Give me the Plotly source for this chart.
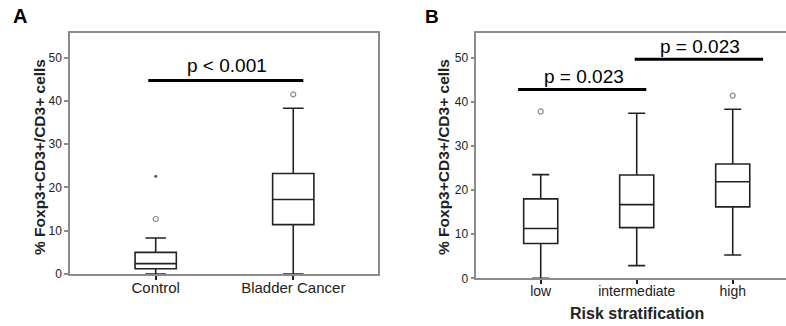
import plotly.graph_objects as go

W, H = 786, 326

# ---- Panel A data ----
cats_a = ["Control", "Bladder Cancer"]
a_lower = [0.0, 0.0]
a_q1 = [1.2, 11.4]
a_median = [2.4, 17.2]
a_q3 = [5.0, 23.2]
a_upper = [8.3, 38.3]
a_out_idx = [0, 1]
a_out_val = [12.7, 41.5]
a_ext_idx = [0]
a_ext_val = [22.6]

# ---- Panel B data ----
cats_b = ["low", "intermediate", "high"]
b_lower = [0.0, 2.9, 5.3]
b_q1 = [7.9, 11.5, 16.2]
b_median = [11.3, 16.7, 21.9]
b_q3 = [18.0, 23.4, 25.9]
b_upper = [23.5, 37.4, 38.3]
b_out_idx = [0, 2]
b_out_val = [37.8, 41.4]

# significance bars (category-index x, value y)
sig_a_x = [-0.054, 1.073]
sig_a_y = 44.7
sig_a_text = "p < 0.001"
sig_b1_x = [-0.236, 1.10]
sig_b1_y = 42.8
sig_b2_x = [0.979, 2.316]
sig_b2_y = 49.6
sig_b_text = "p = 0.023"

y_ticks = [0, 10, 20, 30, 40, 50]
y_title = "% Foxp3+CD3+/CD3+ cells"
x_title_b = "Risk stratification"

FONT = "Liberation Sans, Arial, sans-serif"
FRAME = "#8c8c8c"
INK = "#222222"

pos_a = list(range(len(cats_a)))
pos_b = list(range(len(cats_b)))

fig = go.Figure()

box_style = dict(line=dict(color=INK, width=1.6), fillcolor="white",
                 whiskerwidth=0.5, boxpoints=False, showlegend=False,
                 hoverinfo="skip")
out_marker = dict(symbol="circle-open", size=5, color="#8a8a8a", line=dict(width=1.2))

fig.add_trace(go.Box(x=pos_a, q1=a_q1, median=a_median, q3=a_q3,
                     lowerfence=a_lower, upperfence=a_upper, width=0.30,
                     xaxis="x", yaxis="y", **box_style))
fig.add_trace(go.Scatter(x=a_out_idx, y=a_out_val, mode="markers", marker=out_marker,
                         xaxis="x", yaxis="y", showlegend=False))
fig.add_trace(go.Scatter(x=a_ext_idx, y=a_ext_val, mode="markers",
                         marker=dict(symbol="circle", size=3, color="#555555"),
                         xaxis="x", yaxis="y", showlegend=False))
fig.add_trace(go.Scatter(x=sig_a_x, y=[sig_a_y, sig_a_y], mode="lines",
                         line=dict(color="black", width=3),
                         xaxis="x", yaxis="y", showlegend=False))

fig.add_trace(go.Box(x=pos_b, q1=b_q1, median=b_median, q3=b_q3,
                     lowerfence=b_lower, upperfence=b_upper, width=0.355,
                     xaxis="x2", yaxis="y2", **box_style))
fig.add_trace(go.Scatter(x=b_out_idx, y=b_out_val, mode="markers", marker=out_marker,
                         xaxis="x2", yaxis="y2", showlegend=False))
fig.add_trace(go.Scatter(x=sig_b1_x, y=[sig_b1_y, sig_b1_y], mode="lines",
                         line=dict(color="black", width=3),
                         xaxis="x2", yaxis="y2", showlegend=False))
fig.add_trace(go.Scatter(x=sig_b2_x, y=[sig_b2_y, sig_b2_y], mode="lines",
                         line=dict(color="black", width=3),
                         xaxis="x2", yaxis="y2", showlegend=False))

yax = dict(range=[0, 55.6], tickvals=y_ticks, ticks="outside", ticklen=4,
           tickwidth=1.5, tickcolor=FRAME, showline=True, linecolor=FRAME,
           linewidth=1.5, showgrid=False, zeroline=False, automargin=False,
           tickfont=dict(family=FONT, size=12, color=INK))
xax = dict(ticks="outside", ticklen=4, tickwidth=1.5, automargin=False,
           ticklabelstandoff=-5,
           tickcolor=INK, showline=True, linecolor=FRAME, linewidth=1.5,
           showgrid=False, zeroline=False)

fig.update_layout(
    template="none",
    width=W, height=H, autosize=False, margin=dict(l=0, r=0, t=0, b=0, pad=0),
    paper_bgcolor="white", plot_bgcolor="white", showlegend=False,
    xaxis=dict(domain=[70 / W, 378 / W], range=[-0.623, 1.616], mirror=True,
               tickvals=pos_a, ticktext=cats_a,
               tickfont=dict(family=FONT, size=15, color=INK), anchor="y", **xax),
    yaxis=dict(domain=[1 - 274 / H, 1 - 33.3 / H], mirror=True, anchor="x", **yax),
    xaxis2=dict(domain=[476.3 / W, 1.0], range=[-0.671, 2.555], mirror=True,
                tickvals=pos_b, ticktext=cats_b,
                tickfont=dict(family=FONT, size=14, color=INK), anchor="y2", **xax),
    yaxis2=dict(domain=[1 - 278.4 / H, 1 - 33.3 / H], anchor="x2",
                **{**yax, "range": [0, 55.5]}),
)

C = dict(xanchor="center", yanchor="middle", showarrow=False)
ann = []
ann.append(dict(text=sig_a_text, x=0.52, y=48.2, xref="x", yref="y",
                font=dict(family=FONT, size=19, color="black"), **C))
ann.append(dict(text=sig_b_text, x=0.446, y=45.8, xref="x2", yref="y2",
                font=dict(family=FONT, size=19, color="black"), **C))
ann.append(dict(text=sig_b_text, x=1.656, y=52.5, xref="x2", yref="y2",
                font=dict(family=FONT, size=19, color="black"), **C))
ann.append(dict(text="<b>A</b>", x=19.5 / W, y=1 - 15.5 / H, xref="paper", yref="paper",
                font=dict(family=FONT, size=20, color="black"), **C))
ann.append(dict(text="<b>B</b>", x=431.5 / W, y=1 - 16.5 / H, xref="paper", yref="paper",
                font=dict(family=FONT, size=19, color="black"), **C))
for xc in (39, 443):
    ann.append(dict(text="<b>" + y_title + "</b>", x=xc / W, y=1 - 157 / H,
                    xref="paper", yref="paper", textangle=-90,
                    font=dict(family=FONT, size=15.5, color=INK), **C))
ann.append(dict(text="<b>" + x_title_b + "</b>", x=637 / W, y=1 - 313 / H,
                xref="paper", yref="paper",
                font=dict(family=FONT, size=16, color=INK), **C))
fig.update_layout(annotations=ann)

fig.write_html("out.html", config={"displayModeBar": False, "responsive": False},
               post_script="document.body.style.margin='0';")
